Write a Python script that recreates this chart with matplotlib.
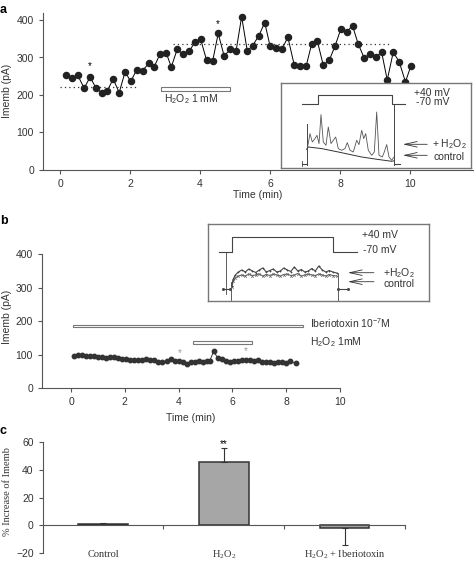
"""
Three-panel membrane current figure: time courses (a, b) with trace insets and bar summary (c).
"""
import matplotlib
matplotlib.use("Agg")
import matplotlib.pyplot as plt
from matplotlib.patches import Rectangle

plt.rcParams["font.family"] = ["Liberation Sans", "DejaVu Sans"]
plt.rcParams["mathtext.default"] = "regular"

SERIF = ["Liberation Serif", "DejaVu Serif"]
AX_COLOR = "#555555"
TXT_COLOR = "#333333"

# ---- panel a: Imemb time course with H2O2 ----
a_time = [0.17, 0.34, 0.51, 0.69, 0.86, 1.03, 1.19, 1.35, 1.52, 1.69,
          1.86, 2.02, 2.19, 2.36, 2.53, 2.69, 2.86, 3.03, 3.18, 3.35,
          3.52, 3.69, 3.86, 4.02, 4.19, 4.36, 4.52, 4.69, 4.86, 5.03,
          5.19, 5.35, 5.50, 5.68, 5.85, 6.00, 6.17, 6.34, 6.51, 6.69,
          6.86, 7.03, 7.19, 7.35, 7.52, 7.69, 7.86, 8.02, 8.19, 8.36,
          8.52, 8.69, 8.86, 9.03, 9.19, 9.35, 9.52, 9.69, 9.87, 10.02]
a_imemb = [252, 245, 252, 218, 248, 218, 206, 211, 243, 206,
           262, 236, 267, 265, 284, 275, 310, 313, 275, 322,
           308, 316, 342, 348, 292, 290, 364, 304, 322, 317,
           409, 318, 331, 358, 393, 331, 324, 322, 354, 281,
           276, 276, 336, 345, 280, 292, 331, 375, 369, 384,
           336, 299, 308, 302, 314, 240, 314, 289, 235, 276]
a_levels = [222, 335]
a_level_spans = [(0.0, 2.17), (3.22, 9.40)]
a_stars = [(0.86, 277), (4.52, 389)]
a_h2o2_bar = (2.88, 4.86, 210, 222)  # t0, t1, y0, y1

# panel a inset (local units)
ia_volt_x = [21, 36.7, 36.7, 110.7, 110.7, 124]
ia_volt_y = [64.7, 64.7, 73.7, 73.7, 64.7, 64.7]
ia_ctl_x = [25.7, 27.3, 40.7, 57.3, 80.7, 96.0, 110.7, 113.0]
ia_ctl_y = [19.0, 21.3, 19.7, 16.3, 11.3, 9.0, 7.0, 7.5]
ia_h2_x = [25.7, 26.3, 29.0, 31.3, 34.0, 36.0, 38.0, 40.0, 42.3, 45.0, 47.3, 50.0,
           52.3, 54.7, 57.3, 60.7, 64.0, 66.3, 69.0, 72.3, 75.7, 78.0, 80.7, 82.7,
           84.7, 87.3, 90.7, 93.3, 95.7, 98.0, 101.3, 103.3, 105.7, 108.0, 110.7, 113.0]
ia_h2_y = [19.0, 19.7, 34.7, 26.3, 29.7, 33.0, 24.7, 53.7, 26.3, 23.0, 41.3, 24.7,
           28.0, 31.3, 19.7, 18.0, 19.7, 25.7, 18.0, 16.3, 28.0, 23.7, 38.0, 29.7,
           34.7, 18.0, 13.0, 16.3, 56.3, 13.0, 11.3, 16.3, 23.7, 11.3, 8.0, 11.3]

# ---- panel b: Imemb time course with iberiotoxin ----
b_time = [0.10, 0.25, 0.40, 0.55, 0.70, 0.85, 1.00, 1.15, 1.30, 1.45,
          1.60, 1.75, 1.90, 2.05, 2.20, 2.35, 2.50, 2.65, 2.80, 2.95,
          3.10, 3.25, 3.40, 3.55, 3.70, 3.85, 4.00, 4.15, 4.30, 4.45,
          4.60, 4.75, 4.90, 5.05, 5.15, 5.30, 5.45, 5.60, 5.75, 5.90,
          6.05, 6.20, 6.35, 6.50, 6.65, 6.80, 6.95, 7.10, 7.25, 7.40,
          7.55, 7.70, 7.85, 8.00, 8.15, 8.35]
b_imemb = [96, 98, 98, 97, 97, 95, 93, 92, 89, 92,
           93, 90, 88, 86, 85, 84, 85, 83, 87, 84,
           83, 79, 78, 82, 86, 81, 80, 79, 72, 78,
           79, 80, 79, 80, 80, 110, 91, 86, 82, 79,
           80, 82, 85, 85, 84, 82, 84, 77, 79, 77,
           76, 78, 78, 76, 81, 74]
b_stars = [(4.05, 104), (6.51, 112)]
b_ibtx_bar = (0.09, 8.64, 182, 190)
b_h2o2_bar = (4.52, 6.72, 132, 140)

# panel b inset (local units)
ib_volt_x = [10.7, 23.4, 23.4, 125.0, 125.0, 148.4]
ib_volt_y = [49, 49, 64, 64, 49, 49]
ib_x = [23.4, 25, 27, 30, 33.5, 37, 40.5, 44, 47.5, 51, 54.5, 58, 61.5, 65, 68.5, 72,
        75.5, 79, 82.5, 86, 89.5, 93, 96.5, 100, 103.5, 107, 110.5, 114, 117.5, 121,
        124.5, 128.4]
ib_ctl_y = [14, 20, 23, 25, 26, 25, 27, 25.5, 26, 27, 25, 26.5, 25.5, 27, 26, 25,
            26.5, 27, 25.5, 26, 27.5, 25, 26, 27, 26, 25.5, 27, 26, 25, 26.5,
            25.5, 25]
ib_h2_y = [15, 22, 26, 29, 31, 29, 32, 30, 28.5, 31, 33, 29, 30.5, 32, 29, 30,
           33, 31, 29.5, 34, 30, 31.5, 29, 30, 32.5, 30, 35, 31, 29, 30.5,
           29, 28]

# ---- panel c: % increase ----
c_groups = ["Control", "H$_2$O$_2$", "H$_2$O$_2$ + Iberiotoxin"]
c_values = [1.2, 45.1, -1.7]
c_err_low = [0, 0, 12.7]
c_err_high = [0.8, 10.1, 0]


def style_axes(ax):
    for side in ("top", "right"):
        ax.spines[side].set_visible(False)
    for side in ("left", "bottom"):
        ax.spines[side].set_color(AX_COLOR)
        ax.spines[side].set_linewidth(0.8)
    ax.tick_params(colors=AX_COLOR, labelcolor=TXT_COLOR, labelsize=7.5,
                   length=3, width=0.8)


def style_inset(ax, xmax, ymax):
    ax.set_xlim(0, xmax)
    ax.set_ylim(0, ymax)
    ax.set_xticks([])
    ax.set_yticks([])
    for s in ax.spines.values():
        s.set_color("#777777")
        s.set_linewidth(1.0)


def bar_patch(ax, spec):
    t0, t1, y0, y1 = spec
    ax.add_patch(Rectangle((t0, y0), t1 - t0, y1 - y0, facecolor="white",
                           edgecolor="#777777", linewidth=0.8, clip_on=False))


def arrow(ax, head, tail):
    ax.annotate("", xy=head, xytext=tail,
                arrowprops=dict(arrowstyle="->,head_length=0.9,head_width=0.2",
                                lw=0.6, color="#333333"))


W, H = 474, 564
fig = plt.figure(figsize=(W / 100, H / 100), dpi=100)


def px_axes(x0, y0, x1, y1):
    return fig.add_axes([x0 / W, 1 - y1 / H, (x1 - x0) / W, (y1 - y0) / H])


def px_ylabel(x, y, text, **kw):
    fig.text(x / W, 1 - y / H, text, rotation=90, ha="center", va="center",
             fontsize=7.5, color=TXT_COLOR, **kw)


# panel a
ax_a = px_axes(43, 12.5, 473, 170)
style_axes(ax_a)
ax_a.plot(a_time, a_imemb, color="black", lw=0.7, marker="o", ms=4.4,
          mfc="#222222", mec="#222222")
for lvl, (t0, t1) in zip(a_levels, a_level_spans):
    ax_a.plot([t0, t1], [lvl, lvl], color="#333333", lw=0.9, ls=(0, (1, 2.5)))
for t, v in a_stars:
    ax_a.text(t, v, "*", ha="center", va="center", fontsize=7)
bar_patch(ax_a, a_h2o2_bar)
ax_a.text(2.98, 188, "H$_2$O$_2$ 1 mM", fontsize=7.5, va="center", color=TXT_COLOR)
ax_a.set_xlim(-0.486, 11.8)
ax_a.set_ylim(0, 420)
ax_a.set_xticks([0, 2, 4, 6, 8, 10])
ax_a.set_yticks([0, 100, 200, 300, 400])
ax_a.set_xlabel("Time (min)", fontsize=7.5, color=TXT_COLOR, labelpad=1)
px_ylabel(7, 91, "Imemb (pA)")

ia = px_axes(281, 83.3, 470.7, 168.3)
style_inset(ia, 189.7, 85)
ia.plot(ia_volt_x, ia_volt_y, color="#444444", lw=0.8)
ia.plot([20.7, 25.7], [4.7, 4.7], color="#444444", lw=0.8)
ia.plot([20.7, 20.7], [2.0, 7.0], color="#444444", lw=0.6)
ia.plot([25.7, 25.7], [3.0, 44.0], color="#444444", lw=0.7)
ia.plot([113.0, 113.0], [3.0, 63.0], color="#444444", lw=0.7)
ia.plot([113.0, 119.0], [4.7, 4.7], color="#444444", lw=0.8)
ia.plot(ia_ctl_x, ia_ctl_y, color="#333333", lw=0.7)
ia.plot(ia_h2_x, ia_h2_y, color="#555555", lw=0.6)
ia.text(133, 75.5, "+40 mV", fontsize=7.5, va="center", color=TXT_COLOR)
ia.text(134.7, 66.5, "-70 mV", fontsize=7.5, va="center", color=TXT_COLOR)
arrow(ia, (119, 24), (149, 24))
arrow(ia, (119, 13), (149, 13))
ia.text(151, 24, "+ H$_2$O$_2$", fontsize=7.5, va="center", color=TXT_COLOR)
ia.text(152, 11.5, "control", fontsize=7.5, va="center", color=TXT_COLOR)

# panel b
ax_b = px_axes(42, 254, 340, 388.3)
style_axes(ax_b)
ax_b.plot(b_time, b_imemb, color="#333333", lw=0.7, marker="o", ms=3.2,
          mfc="#333333", mec="#333333")
for t, v in b_stars:
    ax_b.text(t, v, "*", ha="center", va="center", fontsize=7, color="#999999")
bar_patch(ax_b, b_ibtx_bar)
bar_patch(ax_b, b_h2o2_bar)
ax_b.text(8.88, 193, "Iberiotoxin 10$^{-7}$M", fontsize=7.5, va="center",
          color=TXT_COLOR, clip_on=False)
ax_b.text(8.88, 139, "H$_2$O$_2$ 1mM", fontsize=7.5, va="center",
          color=TXT_COLOR, clip_on=False)
ax_b.set_xlim(-1.08, 10)
ax_b.set_ylim(0, 400)
ax_b.set_xticks([0, 2, 4, 6, 8, 10])
ax_b.set_yticks([0, 100, 200, 300, 400])
ax_b.set_xlabel("Time (min)", fontsize=7.5, color=TXT_COLOR, labelpad=4)
px_ylabel(7.5, 317, "Imemb (pA)")

ib = px_axes(208.3, 224.3, 429.3, 301)
style_inset(ib, 221, 76.7)
ib.plot(ib_volt_x, ib_volt_y, color="#444444", lw=0.8)
ib.plot([17.4, 17.4], [7.3, 49], color="#444444", lw=0.6)
ib.plot([22.7, 22.7], [0, 19], color="#444444", lw=0.6)
ib.plot([129.4, 129.4], [0, 28], color="#444444", lw=0.6)
ib.plot([15, 21.7], [12.3, 12.3], color="#444444", lw=0.8, marker="x", ms=1.5)
ib.plot([130, 140], [12.3, 12.3], color="#444444", lw=0.8, marker="x", ms=1.5)
ib.plot(ib_x, ib_ctl_y, color="#666666", lw=0.8, marker="x", ms=1.8, mew=0.5)
ib.plot(ib_x, ib_h2_y, color="#444444", lw=0.8, marker="+", ms=1.8, mew=0.5)
ib.text(153.4, 66, "+40 mV", fontsize=7.5, va="center", color=TXT_COLOR)
ib.text(154.7, 51, "-70 mV", fontsize=7.5, va="center", color=TXT_COLOR)
arrow(ib, (136.7, 28.3), (168.4, 28.3))
arrow(ib, (136.7, 19.3), (168.4, 19.3))
ib.text(174.7, 28.3, "+H$_2$O$_2$", fontsize=7.5, va="center", color=TXT_COLOR)
ib.text(174.7, 17, "control", fontsize=7.5, va="center", color=TXT_COLOR)

# panel c
ax_c = px_axes(42.7, 441.7, 405, 553.3)
style_axes(ax_c)
ax_c.spines["bottom"].set_position(("data", 0))
pos = list(range(len(c_groups)))
ax_c.bar(pos, c_values, width=0.41, color="#a6a6a6", edgecolor="#333333",
         linewidth=1.1, yerr=[c_err_low, c_err_high], capsize=2.5,
         error_kw=dict(ecolor="#333333", elinewidth=0.8, capthick=0.8))
ax_c.text(1, 58.5, "**", ha="center", va="center", fontsize=7)
ax_c.set_xlim(-0.5, 2.5)
ax_c.set_ylim(-20, 60)
ax_c.set_yticks([-20, 0, 20, 40, 60])
ax_c.set_xticks([])
ax_c.set_xticks([0.5, 1.5, 2.5], minor=True)
ax_c.tick_params(axis="x", which="minor", direction="out", length=3,
                 width=0.8, color=AX_COLOR)
for p, lab in zip(pos, c_groups):
    ax_c.text(p, -20.8, lab, ha="center", va="center", fontsize=7.5,
              family=SERIF, color=TXT_COLOR)
px_ylabel(8, 492, "% Increase of Imemb", family=SERIF)

# panel letters
for lab, y in (("a", 10), ("b", 221), ("c", 431)):
    fig.text(0.0, 1 - y / H, lab, fontsize=9, fontweight="bold", va="center", ha="left")

fig.savefig("out.png", dpi=100)
